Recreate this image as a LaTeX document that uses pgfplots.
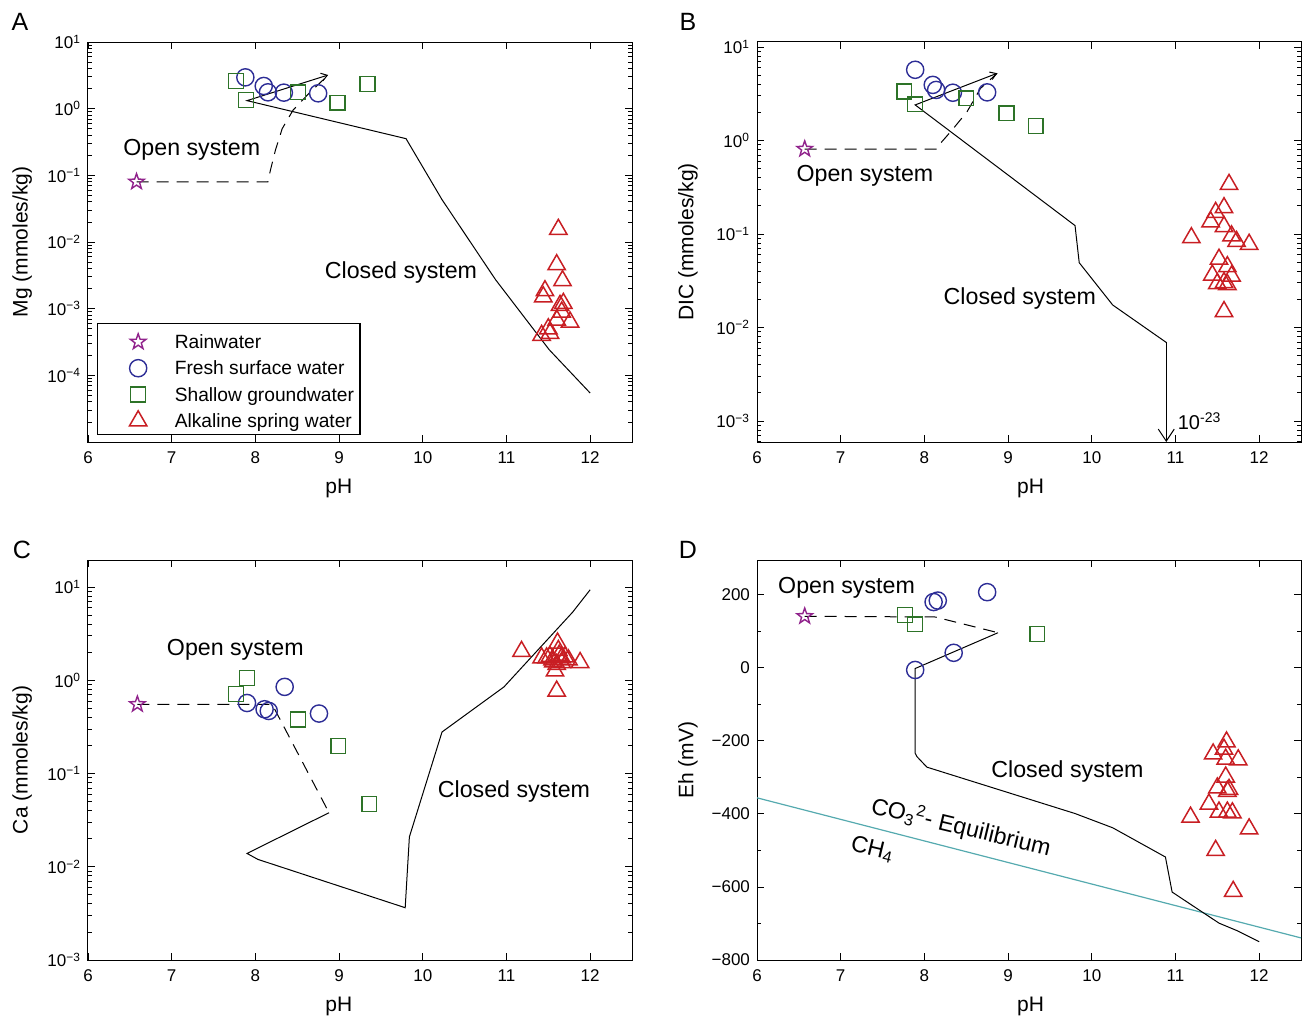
\documentclass[border=0pt]{standalone}
\usepackage{pgfplots}
\pgfplotsset{compat=1.18}
\usepackage{fontspec}
\setmainfont{Liberation Sans}
\usetikzlibrary{arrows.meta}

\definecolor{cStar}{RGB}{145,35,140}
\definecolor{cCirc}{RGB}{45,45,150}
\definecolor{cSq}{RGB}{45,115,40}
\definecolor{cTri}{RGB}{200,30,35}
\definecolor{cTeal}{RGB}{85,170,175}

\pgfdeclareplotmark{pentagram}{%
  \pgfpathmoveto{\pgfqpointpolar{90}{\pgfplotmarksize}}%
  \pgfpathlineto{\pgfqpointpolar{126}{0.4\pgfplotmarksize}}%
  \pgfpathlineto{\pgfqpointpolar{162}{\pgfplotmarksize}}%
  \pgfpathlineto{\pgfqpointpolar{198}{0.4\pgfplotmarksize}}%
  \pgfpathlineto{\pgfqpointpolar{234}{\pgfplotmarksize}}%
  \pgfpathlineto{\pgfqpointpolar{270}{0.4\pgfplotmarksize}}%
  \pgfpathlineto{\pgfqpointpolar{306}{\pgfplotmarksize}}%
  \pgfpathlineto{\pgfqpointpolar{342}{0.4\pgfplotmarksize}}%
  \pgfpathlineto{\pgfqpointpolar{18}{\pgfplotmarksize}}%
  \pgfpathlineto{\pgfqpointpolar{54}{0.4\pgfplotmarksize}}%
  \pgfpathclose
  \pgfusepathqstroke
}

\pgfplotsset{
  panel/.style={
    scale only axis, width=272pt, height=200pt,
    xmin=6, xmax=12.5,
    xtick={6,7,8,9,10,11,12}, xticklabels={6,7,8,9,10,11,12},
    tick align=inside,
    major tick length=3.5pt, minor tick length=2pt,
    every tick/.style={black, line width=0.4pt},
    axis line style={line width=0.5pt},
    tick label style={font=\fontsize{8.5}{10}\selectfont},
    xticklabel style={yshift=-1.5pt},
    label style={font=\fontsize{10.5}{12}\selectfont},
    xlabel={pH},
    xlabel style={at={(axis description cs:0.461,0)}, anchor=center, yshift=-23pt},
    ylabel style={at={(axis description cs:-0.121,0.5)}, anchor=center},
    clip=false,
  },
  star/.style={only marks, color=cStar, mark=pentagram, mark size=4.1pt, mark options={solid, line width=0.7pt}},
  circ/.style={only marks, color=cCirc, mark=o, mark size=4.3pt, mark options={solid, line width=0.7pt}},
  sq/.style={only marks, color=cSq, mark=square, mark size=3.7pt, mark options={solid, line width=0.7pt}},
  tri/.style={only marks, color=cTri, mark=triangle, mark size=5pt, mark options={solid, line width=0.75pt}},
  openl/.style={black, dash pattern=on 6pt off 4pt, line width=0.5pt, forget plot},
  closedl/.style={black, line width=0.5pt, forget plot},
  logminor/.style={minor ytick={2e-5,3e-5,4e-5,5e-5,6e-5,7e-5,8e-5,9e-5,2e-4,3e-4,4e-4,5e-4,6e-4,7e-4,8e-4,9e-4,2e-3,3e-3,4e-3,5e-3,6e-3,7e-3,8e-3,9e-3,0.02,0.03,0.04,0.05,0.06,0.07,0.08,0.09,0.2,0.3,0.4,0.5,0.6,0.7,0.8,0.9,2,3,4,5,6,7,8,9}},
}
\tikzset{ann/.style={font=\fontsize{11.6}{13}\selectfont}}

\begin{document}
\begin{tikzpicture}
\useasboundingbox (0pt,0pt) rectangle (653pt,-509pt);

% ---------------- A ----------------
\begin{axis}[panel, at={(44pt,-221pt)}, anchor=south west,
  ymode=log, ymin=1e-5, ymax=10, logminor,
  ytick={1e-4,1e-3,1e-2,1e-1,1,10},
  yticklabels={10\textsuperscript{−4},10\textsuperscript{−3},10\textsuperscript{−2},10\textsuperscript{−1},10\textsuperscript{0},10\textsuperscript{1}},
  ylabel={Mg (mmoles/kg)},
  legend style={at={(0.0165,0.0175)}, anchor=south west, draw=black, line width=0.6pt, fill=white,
    font=\fontsize{9.6}{11}\selectfont, inner xsep=2pt, inner ysep=2.5pt, row sep=2.15pt, column sep=7pt,
    nodes={inner sep=1pt, text height=9pt, text depth=0pt}},
  legend cell align=left,
  legend image code/.code={\pgfinterruptboundingbox\draw[#1] plot coordinates {(18pt,-1.2pt)};\endpgfinterruptboundingbox \path (0pt,-4.5pt) (28pt,4.5pt);},
]
\addplot[openl] coordinates {(6.58,0.08) (8.15,0.08) (8.18,0.12) (8.24,0.24) (8.32,0.5) (8.45,0.95) (8.62,1.6) (8.87,3.2)};
\addplot[closedl, {Straight Barb[length=3pt,width=4pt]}-] coordinates {(8.87,3.2) (7.90,1.32) (9.80,0.355) (10.23,0.0432) (10.87,0.00272) (11.51,2.43e-4) (12.0,5.43e-5)};
\addplot[star] coordinates {(6.58,0.08)};
\addlegendentry{Rainwater}
\addplot[circ] coordinates {(7.88,2.95) (8.10,2.19) (8.15,1.76) (8.34,1.74) (8.75,1.70)};
\addlegendentry{Fresh surface water}
\addplot[sq] coordinates {(7.77,2.6) (7.89,1.35) (8.51,1.76) (8.98,1.23) (9.34,2.34)};
\addlegendentry{Shallow groundwater}
\addplot[tri] coordinates {(11.62,1.55e-2) (11.60,4.57e-3) (11.67,2.63e-3) (11.46,1.86e-3) (11.44,1.51e-3) (11.68,1.20e-3) (11.64,1.12e-3) (11.66,8.9e-4) (11.60,6.76e-4) (11.76,6.31e-4) (11.50,5.0e-4) (11.52,4.27e-4) (11.42,3.98e-4)};
\addlegendentry{Alkaline spring water}
\node[ann] at (axis cs:7.24,0.245) {Open system};
\node[ann] at (axis cs:9.74,0.0035) {Closed system};
\end{axis}

% ---------------- B ----------------
\begin{axis}[panel, at={(378.5pt,-221pt)}, anchor=south west,
  ymode=log, ymin=5.96e-4, ymax=11.3, logminor,
  ytick={1e-3,1e-2,1e-1,1,10},
  yticklabels={10\textsuperscript{−3},10\textsuperscript{−2},10\textsuperscript{−1},10\textsuperscript{0},10\textsuperscript{1}},
  ylabel={DIC (mmoles/kg)},
  ylabel style={at={(axis description cs:-0.127,0.5)}},
  xlabel style={at={(axis description cs:0.503,0)}},
]
\addplot[openl] coordinates {(6.57,0.81) (8.15,0.81) (8.20,0.95) (8.33,1.29) (8.51,2.03) (8.67,3.6) (8.87,5.23)};
\addplot[closedl, {Straight Barb[length=3pt,width=4pt]}-] coordinates {(8.87,5.23) (7.89,2.40) (9.80,0.123) (9.85,0.0493) (10.25,0.0174) (10.89,0.00692)};
\addplot[closedl, -{Straight Barb[length=6pt,width=8pt]}] coordinates {(10.89,0.00692) (10.89,5.96e-4)};
\addplot[star] coordinates {(6.57,0.81)};
\addplot[circ] coordinates {(7.89,5.7) (8.10,3.93) (8.14,3.47) (8.34,3.24) (8.75,3.27)};
\addplot[sq] coordinates {(7.76,3.34) (7.89,2.44) (8.50,2.83) (8.98,1.95) (9.33,1.43)};
\addplot[tri] coordinates {(11.64,0.339) (11.58,0.191) (11.48,0.170) (11.42,0.135) (11.58,0.120) (11.19,0.0912) (11.67,0.0955) (11.73,0.0832) (11.88,0.0776) (11.52,0.0537) (11.62,0.0447) (11.67,0.0355) (11.44,0.0363) (11.58,0.0302) (11.50,0.0295) (11.62,0.0288) (11.58,0.0148)};
\node[ann] at (axis cs:7.29,0.42) {Open system};
\node[ann] at (axis cs:9.14,0.0203) {Closed system};
\node[anchor=west, font=\fontsize{10}{12}\selectfont, inner sep=1pt] at (axis cs:11.0,1.0e-3) {10\textsuperscript{-23}};
\end{axis}

% ---------------- C ----------------
\begin{axis}[panel, at={(44pt,-480pt)}, anchor=south west,
  ymode=log, ymin=1e-3, ymax=19.5, logminor,
  ytick={1e-3,1e-2,1e-1,1,10},
  yticklabels={10\textsuperscript{−3},10\textsuperscript{−2},10\textsuperscript{−1},10\textsuperscript{0},10\textsuperscript{1}},
  ylabel={Ca (mmoles/kg)},
]
\addplot[openl] coordinates {(6.59,0.553) (8.20,0.553) (8.88,0.038)};
\addplot[closedl] coordinates {(8.88,0.038) (7.90,0.0139) (8.03,0.012) (9.79,0.00364) (9.84,0.0209) (10.23,0.279) (10.97,0.849) (11.79,5.37) (12.0,9.35)};
\addplot[star] coordinates {(6.59,0.553)};
\addplot[circ] coordinates {(7.90,0.571) (8.11,0.489) (8.16,0.469) (8.35,0.85) (8.76,0.44)};
\addplot[sq] coordinates {(7.90,1.06) (7.77,0.71) (8.51,0.38) (8.99,0.198) (9.36,0.047)};
\addplot[tri] coordinates {(11.18,2.04) (11.61,2.51) (11.88,1.55) (11.60,0.766) (11.58,1.26) (11.42,1.74) (11.52,1.80) (11.66,1.74) (11.74,1.66) (11.56,1.58) (11.48,1.74) (11.63,1.86) (11.70,1.78) (11.60,1.48) (11.66,1.55) (11.55,1.66) (11.62,2.09)};
\node[ann] at (axis cs:7.76,2.1) {Open system};
\node[ann] at (axis cs:11.09,0.064) {Closed system};
\end{axis}

% ---------------- D ----------------
\begin{axis}[panel, at={(378.5pt,-480pt)}, anchor=south west,
  ymin=-800, ymax=295,
  ytick={-800,-600,-400,-200,0,200},
  yticklabels={−800,−600,−400,−200,0,200},
  minor ytick={-700,-500,-300,-100,100},
  ylabel={Eh (mV)},
  ylabel style={at={(axis description cs:-0.127,0.5)}},
  xlabel style={at={(axis description cs:0.503,0)}},
]
\addplot[cTeal, line width=0.6pt, forget plot] coordinates {(6,-356) (12.5,-739.5)};
\addplot[openl] coordinates {(6.57,141) (8.13,139) (8.88,96)};
\addplot[closedl] coordinates {(8.88,96) (7.89,-2) (7.89,-234) (7.91,-243) (8.03,-272) (9.80,-399) (10.25,-438) (10.88,-518) (10.96,-614) (11.52,-699) (11.74,-720) (12.0,-750)};
\addplot[star] coordinates {(6.57,141)};
\addplot[circ] coordinates {(7.89,-6) (8.35,41) (8.11,180) (8.16,184) (8.75,207)};
\addplot[sq] coordinates {(7.77,144) (7.89,119) (9.35,92)};
\addplot[tri] coordinates {(11.61,-203) (11.45,-236) (11.58,-223) (11.60,-250) (11.75,-252) (11.60,-299) (11.50,-329) (11.64,-333) (11.62,-338) (11.40,-373) (11.52,-395) (11.62,-395) (11.68,-397) (11.18,-409) (11.88,-441) (11.48,-500) (11.69,-612)};
\node[ann] at (axis cs:7.07,220) {Open system};
\node[ann] at (axis cs:9.71,-284) {Closed system};
\node[ann, rotate=-13.5] at (axis cs:8.44,-436) {CO\textsubscript{3}\textsuperscript{2}- Equilibrium};
\node[ann, rotate=-13.5] at (axis cs:7.38,-497) {CH\textsubscript{4}};
\end{axis}

\node[font=\fontsize{12.5}{14}\selectfont] at (10pt,-11pt) {A};
\node[font=\fontsize{12.5}{14}\selectfont] at (344pt,-11pt) {B};
\node[font=\fontsize{12.5}{14}\selectfont] at (11pt,-275pt) {C};
\node[font=\fontsize{12.5}{14}\selectfont] at (344pt,-275pt) {D};
\end{tikzpicture}
\end{document}
